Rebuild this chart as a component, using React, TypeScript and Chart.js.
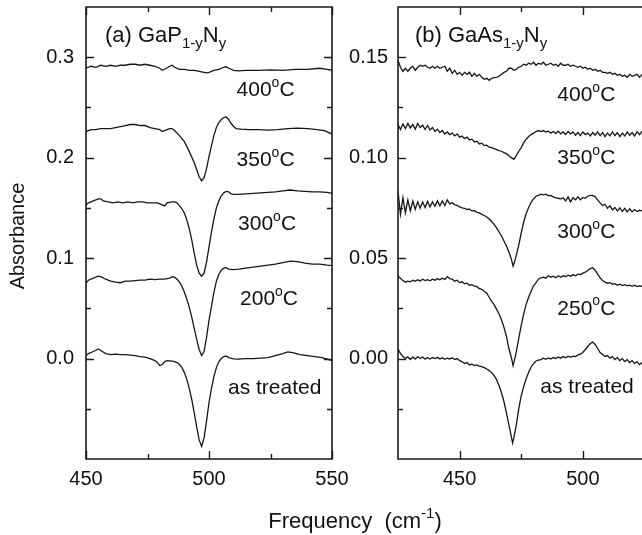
import React, { useEffect, useRef } from 'react';
import { Chart, registerables } from 'chart.js';

Chart.register(...registerables);

const FONT = '"Liberation Sans", Arial, Helvetica, sans-serif';
const INK = '#161616';

// ---------- Panel (a) GaP1-yNy ----------
const gapXTicks = [450, 500, 550];
const gapXMinor = [475, 525];
const gapYTicks = [0.0, 0.1, 0.2, 0.3];
const gapYMinor = [-0.05, 0.05, 0.15, 0.25];

const gap400: number[][] = [
  [450, 0.289], [452, 0.291], [454, 0.290], [456, 0.292], [458, 0.291], [460, 0.292], [462, 0.291],
  [464, 0.292], [466, 0.292], [468, 0.293], [470, 0.293], [472, 0.292], [474, 0.293], [476, 0.292],
  [478, 0.291], [480, 0.289], [481, 0.287], [482, 0.288], [484, 0.291], [485, 0.292], [486, 0.290],
  [488, 0.288], [490, 0.288], [492, 0.287], [494, 0.287], [496, 0.286], [498, 0.285], [499, 0.2845],
  [500, 0.285], [502, 0.287], [504, 0.288], [506, 0.290], [507, 0.2905], [508, 0.289], [510, 0.287],
  [512, 0.2865], [515, 0.287], [520, 0.287], [525, 0.2875], [530, 0.287], [535, 0.288], [540, 0.288],
  [545, 0.289], [548, 0.288], [550, 0.287],
];
const gap350: number[][] = [
  [450, 0.226], [452, 0.228], [454, 0.228], [456, 0.229], [458, 0.229], [460, 0.229], [462, 0.230],
  [464, 0.231], [466, 0.232], [468, 0.233], [470, 0.233], [472, 0.232], [474, 0.232], [476, 0.230],
  [478, 0.229], [480, 0.228], [481, 0.226], [482, 0.227], [484, 0.229], [485, 0.229], [486, 0.227],
  [488, 0.222], [490, 0.216], [492, 0.206], [494, 0.195], [495, 0.188], [496, 0.181], [497, 0.177],
  [498, 0.180], [499, 0.189], [500, 0.201], [501, 0.212], [502, 0.222], [503, 0.230], [504, 0.235],
  [505, 0.238], [506, 0.240], [507, 0.2405], [508, 0.238], [509, 0.234], [510, 0.231], [511, 0.229],
  [513, 0.2285], [516, 0.228], [520, 0.228], [524, 0.2275], [528, 0.228], [532, 0.229], [536, 0.2295],
  [540, 0.229], [544, 0.228], [547, 0.227], [550, 0.2235],
];
const gap300: number[][] = [
  [450, 0.153], [451, 0.155], [453, 0.157], [455, 0.159], [456, 0.159], [457, 0.157], [459, 0.156],
  [461, 0.155], [463, 0.156], [465, 0.155], [467, 0.156], [469, 0.155], [471, 0.156], [473, 0.156],
  [475, 0.155], [477, 0.155], [479, 0.155], [481, 0.153], [482, 0.152], [483, 0.155], [485, 0.156],
  [486, 0.156], [487, 0.155], [488, 0.152], [489, 0.149], [490, 0.145], [491, 0.138], [492, 0.129],
  [493, 0.118], [494, 0.105], [495, 0.093], [496, 0.085], [497, 0.082], [498, 0.085], [499, 0.096],
  [500, 0.111], [501, 0.126], [502, 0.139], [503, 0.150], [504, 0.157], [505, 0.162], [506, 0.165],
  [507, 0.1665], [508, 0.166], [509, 0.164], [510, 0.1635], [512, 0.1635], [515, 0.164], [518, 0.1645],
  [521, 0.165], [524, 0.1655], [527, 0.166], [530, 0.167], [533, 0.1678], [536, 0.167], [539, 0.1665],
  [542, 0.166], [545, 0.166], [548, 0.1655], [550, 0.1645],
];
const gap200: number[][] = [
  [450, 0.075], [451, 0.078], [453, 0.080], [455, 0.082], [456, 0.0815], [458, 0.079], [460, 0.077],
  [462, 0.076], [464, 0.0755], [466, 0.077], [468, 0.077], [470, 0.0775], [472, 0.078], [474, 0.078],
  [476, 0.079], [478, 0.0785], [480, 0.079], [482, 0.079], [484, 0.080], [485, 0.0815], [486, 0.081],
  [487, 0.079], [488, 0.076], [489, 0.072], [490, 0.066], [491, 0.059], [492, 0.051], [493, 0.041],
  [494, 0.030], [495, 0.019], [496, 0.009], [497, 0.003], [498, 0.007], [499, 0.021], [500, 0.038],
  [501, 0.052], [502, 0.066], [503, 0.077], [504, 0.084], [505, 0.088], [506, 0.090], [507, 0.0905],
  [508, 0.089], [510, 0.0885], [512, 0.089], [515, 0.090], [518, 0.091], [521, 0.092], [524, 0.093],
  [527, 0.094], [530, 0.0955], [533, 0.097], [536, 0.0965], [539, 0.095], [542, 0.094], [545, 0.094],
  [548, 0.093], [550, 0.0925],
];
const gapAsTreated: number[][] = [
  [450, 0.003], [451, 0.005], [453, 0.007], [455, 0.0095], [456, 0.008], [458, 0.005], [460, 0.004],
  [462, 0.0045], [464, 0.004], [466, 0.004], [468, 0.0035], [470, 0.003], [472, 0.002], [474, 0.0015],
  [476, 0.000], [478, -0.002], [479, -0.004], [480, -0.007], [481, -0.006], [482, -0.003], [483, -0.002],
  [485, -0.0025], [486, -0.003], [487, -0.004], [488, -0.006], [489, -0.009], [490, -0.014], [491, -0.021],
  [492, -0.030], [493, -0.041], [494, -0.054], [495, -0.068], [496, -0.081], [497, -0.0875], [498, -0.079],
  [499, -0.062], [500, -0.044], [501, -0.030], [502, -0.018], [503, -0.009], [504, -0.003], [505, 0.000],
  [506, 0.002], [507, 0.0025], [508, 0.001], [510, -0.0003], [512, -0.0005], [515, 0.000], [518, 0.000],
  [521, 0.0005], [524, 0.001], [527, 0.003], [530, 0.005], [532, 0.0067], [534, 0.006], [537, 0.004],
  [540, 0.003], [543, 0.002], [546, 0.001], [548, -0.0005], [550, -0.002],
];

// ---------- Panel (b) GaAs1-yNy ----------
const gaasXTicks = [450, 500];
const gaasXMinor = [475];
const gaasYTicks = [0.0, 0.05, 0.1, 0.15];
const gaasYMinor = [-0.025, 0.025, 0.075, 0.125];

const gaas400: number[][] = [
  [425, 0.1485], [426, 0.145], [427, 0.143], [428, 0.1445], [429, 0.143], [430, 0.1445], [431, 0.1455],
  [432, 0.1435], [433, 0.145], [434, 0.146], [435, 0.1455], [436, 0.146], [437, 0.145], [438, 0.1445],
  [439, 0.1455], [440, 0.1445], [441, 0.1455], [442, 0.1445], [443, 0.145], [444, 0.1455], [445, 0.143],
  [446, 0.1445], [447, 0.142], [448, 0.1435], [449, 0.1415], [450, 0.1425], [451, 0.141], [452, 0.1425],
  [453, 0.1415], [454, 0.1425], [455, 0.1405], [456, 0.142], [457, 0.1405], [458, 0.1415], [459, 0.140],
  [460, 0.139], [461, 0.1395], [462, 0.1385], [463, 0.1395], [464, 0.1398], [465, 0.140], [466, 0.1405],
  [467, 0.1415], [468, 0.1425], [469, 0.143], [470, 0.1445], [471, 0.1445], [472, 0.1435], [473, 0.144],
  [474, 0.145], [475, 0.1455], [476, 0.1465], [477, 0.146], [478, 0.147], [479, 0.1465], [480, 0.1475],
  [481, 0.146], [482, 0.147], [483, 0.1465], [484, 0.1475], [485, 0.146], [486, 0.1465], [487, 0.147],
  [488, 0.146], [489, 0.1465], [490, 0.1455], [491, 0.147], [492, 0.146], [493, 0.146], [494, 0.1465],
  [495, 0.1455], [496, 0.146], [497, 0.1455], [498, 0.145], [499, 0.1455], [500, 0.1445], [501, 0.145],
  [502, 0.144], [503, 0.1445], [504, 0.1435], [505, 0.144], [506, 0.143], [507, 0.1435], [508, 0.1425],
  [509, 0.1425], [510, 0.142], [511, 0.1425], [512, 0.1415], [513, 0.142], [514, 0.141], [515, 0.1415],
  [516, 0.1405], [517, 0.141], [518, 0.140], [519, 0.1415], [520, 0.1405], [521, 0.141], [522, 0.1415],
  [523, 0.140], [524, 0.1415],
];
const gaas350: number[][] = [
  [425, 0.1165], [426, 0.1140], [427, 0.1168], [428, 0.1145], [429, 0.1170], [430, 0.1148], [431, 0.1165],
  [432, 0.1142], [433, 0.1170], [434, 0.1150], [435, 0.1162], [436, 0.1140], [437, 0.1160], [438, 0.1138],
  [439, 0.1150], [440, 0.1130], [441, 0.1142], [442, 0.1125], [443, 0.1135], [444, 0.1118], [445, 0.1128],
  [446, 0.1115], [447, 0.1122], [448, 0.1108], [449, 0.1118], [450, 0.1102], [451, 0.1108], [452, 0.1095],
  [453, 0.1102], [454, 0.1088], [455, 0.1092], [456, 0.1078], [457, 0.1082], [458, 0.1068], [459, 0.1072],
  [460, 0.1060], [461, 0.1062], [462, 0.1052], [463, 0.1050], [464, 0.1045], [465, 0.1040], [466, 0.1035],
  [467, 0.1032], [468, 0.1025], [469, 0.1020], [470, 0.1010], [471, 0.1000], [472, 0.0992], [473, 0.1010],
  [474, 0.1032], [475, 0.1050], [476, 0.1075], [477, 0.1092], [478, 0.1105], [479, 0.1115], [480, 0.1122],
  [481, 0.1130], [482, 0.1135], [483, 0.1130], [484, 0.1135], [485, 0.1128], [486, 0.1132], [487, 0.1122],
  [488, 0.1130], [489, 0.1120], [490, 0.1132], [491, 0.1118], [492, 0.1128], [493, 0.1115], [494, 0.1130],
  [495, 0.1118], [496, 0.1128], [497, 0.1112], [498, 0.1125], [499, 0.1110], [500, 0.1128], [501, 0.1115],
  [502, 0.1122], [503, 0.1108], [504, 0.1125], [505, 0.1112], [506, 0.1128], [507, 0.1110], [508, 0.1125],
  [509, 0.1105], [510, 0.1122], [511, 0.1108], [512, 0.1128], [513, 0.1110], [514, 0.1125], [515, 0.1105],
  [516, 0.1122], [517, 0.1108], [518, 0.1128], [519, 0.1112], [520, 0.1125], [521, 0.1108], [522, 0.1130],
  [523, 0.1115], [524, 0.1132],
];
const gaas300: number[][] = [
  [425, 0.0834], [426, 0.0718], [427, 0.0801], [428, 0.0726], [429, 0.0790], [430, 0.0735], [431, 0.0784],
  [432, 0.0743], [433, 0.0780], [434, 0.0748], [435, 0.0780], [436, 0.0752], [437, 0.0782], [438, 0.0755],
  [439, 0.0780], [440, 0.0758], [441, 0.0785], [442, 0.0760], [443, 0.0785], [444, 0.0762], [445, 0.0790],
  [446, 0.0770], [447, 0.0775], [448, 0.0765], [449, 0.0762], [450, 0.0755], [451, 0.0750], [452, 0.0748],
  [453, 0.0742], [454, 0.0744], [455, 0.0735], [456, 0.0736], [457, 0.0728], [458, 0.0725], [459, 0.0718],
  [460, 0.0712], [461, 0.0705], [462, 0.0695], [463, 0.0682], [464, 0.0668], [465, 0.0650], [466, 0.0630],
  [467, 0.0610], [468, 0.0585], [469, 0.0560], [470, 0.0530], [471, 0.0495], [471.7, 0.0460], [472.5, 0.0490],
  [473, 0.0515], [474, 0.0565], [475, 0.0625], [476, 0.0680], [477, 0.0722], [478, 0.0752], [479, 0.0778],
  [480, 0.0795], [481, 0.0808], [482, 0.0812], [483, 0.0818], [484, 0.0815], [485, 0.0818], [486, 0.0810],
  [487, 0.0812], [488, 0.0805], [489, 0.0800], [490, 0.0798], [491, 0.0795], [492, 0.0800], [493, 0.0785],
  [494, 0.0805], [495, 0.0780], [496, 0.0800], [497, 0.0790], [498, 0.0805], [499, 0.0790], [500, 0.0802],
  [501, 0.0798], [502, 0.0808], [503, 0.0812], [504, 0.0812], [505, 0.0805], [506, 0.0790], [507, 0.0775],
  [508, 0.0762], [509, 0.0768], [510, 0.0748], [511, 0.0760], [512, 0.0740], [513, 0.0752], [514, 0.0735],
  [515, 0.0750], [516, 0.0732], [517, 0.0748], [518, 0.0730], [519, 0.0745], [520, 0.0730], [521, 0.0742],
  [522, 0.0732], [523, 0.0738], [524, 0.0735],
];
const gaas250: number[][] = [
  [425, 0.0410], [426, 0.0400], [427, 0.0388], [428, 0.0380], [429, 0.0385], [430, 0.0382], [431, 0.0390],
  [432, 0.0385], [433, 0.0392], [434, 0.0386], [435, 0.0395], [436, 0.0388], [437, 0.0393], [438, 0.0387],
  [439, 0.0395], [440, 0.0390], [441, 0.0398], [442, 0.0392], [443, 0.0400], [444, 0.0394], [445, 0.0408],
  [446, 0.0398], [447, 0.0395], [448, 0.0385], [449, 0.0390], [450, 0.0378], [451, 0.0382], [452, 0.0372],
  [453, 0.0375], [454, 0.0365], [455, 0.0368], [456, 0.0360], [457, 0.0358], [458, 0.0348], [459, 0.0345],
  [460, 0.0335], [461, 0.0325], [462, 0.0305], [463, 0.0285], [464, 0.0268], [465, 0.0245], [466, 0.0222],
  [467, 0.0192], [468, 0.0155], [469, 0.0110], [470, 0.0050], [471, 0.0005], [471.7, -0.0035], [472.5, 0.0005],
  [473, 0.0035], [474, 0.0100], [475, 0.0165], [476, 0.0222], [477, 0.0270], [478, 0.0305], [479, 0.0335],
  [480, 0.0362], [481, 0.0378], [482, 0.0395], [483, 0.0402], [484, 0.0405], [485, 0.0400], [486, 0.0412],
  [487, 0.0405], [488, 0.0410], [489, 0.0402], [490, 0.0412], [491, 0.0405], [492, 0.0412], [493, 0.0408],
  [494, 0.0415], [495, 0.0410], [496, 0.0418], [497, 0.0412], [498, 0.0420], [499, 0.0418], [500, 0.0425],
  [501, 0.0430], [502, 0.0438], [503, 0.0448], [504, 0.0452], [505, 0.0440], [506, 0.0420], [507, 0.0402],
  [508, 0.0388], [509, 0.0380], [510, 0.0375], [511, 0.0378], [512, 0.0370], [513, 0.0373], [514, 0.0365],
  [515, 0.0370], [516, 0.0363], [517, 0.0368], [518, 0.0362], [519, 0.0365], [520, 0.0360], [521, 0.0365],
  [522, 0.0358], [523, 0.0362], [524, 0.0360],
];
const gaasAsTreated: number[][] = [
  [425, 0.0048], [426, 0.0025], [427, 0.0010], [428, 0.0000], [429, 0.0008], [430, -0.0005], [431, 0.0008],
  [432, -0.0003], [433, 0.0010], [434, 0.0000], [435, 0.0008], [436, -0.0003], [437, 0.0005], [438, -0.0002],
  [439, 0.0005], [440, 0.0000], [441, 0.0006], [442, -0.0002], [443, 0.0004], [444, -0.0004], [445, 0.0002],
  [446, -0.0002], [447, 0.0004], [448, -0.0005], [449, 0.0000], [450, -0.0010], [451, -0.0015], [452, -0.0025],
  [453, -0.0020], [454, -0.0032], [455, -0.0028], [456, -0.0035], [457, -0.0032], [458, -0.0038], [459, -0.0040],
  [460, -0.0045], [461, -0.0052], [462, -0.0060], [463, -0.0070], [464, -0.0085], [465, -0.0105], [466, -0.0135],
  [467, -0.0170], [468, -0.0215], [469, -0.0270], [470, -0.0330], [471, -0.0390], [471.5, -0.0420], [472, -0.0395],
  [473, -0.0330], [474, -0.0250], [475, -0.0185], [476, -0.0140], [477, -0.0100], [478, -0.0068], [479, -0.0042],
  [480, -0.0025], [481, -0.0012], [482, -0.0008], [483, -0.0005], [484, 0.0002], [485, -0.0004], [486, 0.0003],
  [487, -0.0002], [488, 0.0005], [489, 0.0000], [490, 0.0008], [491, 0.0002], [492, 0.0010], [493, 0.0004],
  [494, 0.0012], [495, 0.0006], [496, 0.0012], [497, 0.0010], [498, 0.0018], [499, 0.0022], [500, 0.0030],
  [501, 0.0045], [502, 0.0060], [503, 0.0075], [504, 0.0082], [505, 0.0070], [506, 0.0050], [507, 0.0030],
  [508, 0.0020], [509, 0.0010], [510, 0.0015], [511, 0.0002], [512, 0.0010], [513, -0.0005], [514, 0.0005],
  [515, -0.0010], [516, 0.0000], [517, -0.0015], [518, -0.0005], [519, -0.0020], [520, -0.0010], [521, -0.0025],
  [522, -0.0015], [523, -0.0030], [524, -0.0020],
];

const gapSeries = [gap400, gap350, gap300, gap200, gapAsTreated];
const gaasSeries = [gaas400, gaas350, gaas300, gaas250, gaasAsTreated];

type Part = { t: string; k?: 'sup' | 'sub' };
const deg = (n: string): Part[] => [{ t: n }, { t: 'o', k: 'sup' }, { t: 'C' }];

// curve labels: centre x (cm-1), baseline y (absorbance)
const gapLabels = [
  { parts: deg('400'), x: 523, y: 0.261 },
  { parts: deg('350'), x: 523, y: 0.1917 },
  { parts: deg('300'), x: 523.6, y: 0.128 },
  { parts: deg('200'), x: 524.4, y: 0.0531 },
  { parts: [{ t: 'as treated' }] as Part[], x: 526.7, y: -0.0349 },
];
const gaasLabels = [
  { parts: deg('400'), x: 501.4, y: 0.128 },
  { parts: deg('350'), x: 501.4, y: 0.0967 },
  { parts: deg('300'), x: 501.4, y: 0.0598 },
  { parts: deg('250'), x: 501.4, y: 0.0219 },
  { parts: [{ t: 'as treated' }] as Part[], x: 501.7, y: -0.0171 },
];
const gapTitle: Part[] = [{ t: '(a) GaP' }, { t: '1-y', k: 'sub' }, { t: 'N' }, { t: 'y', k: 'sub' }];
const gaasTitle: Part[] = [{ t: '(b) GaAs' }, { t: '1-y', k: 'sub' }, { t: 'N' }, { t: 'y', k: 'sub' }];
const xTitle: Part[] = [{ t: 'Frequency  (cm' }, { t: '-1', k: 'sup' }, { t: ')' }];
const yTitle = 'Absorbance';

const LABEL_SIZE = 21;
const TITLE_SIZE = 22;
const TICK_SIZE = 20;

function partSize(p: Part, size: number) {
  return p.k ? Math.round(size * 0.68) : size;
}
function richWidth(ctx: CanvasRenderingContext2D, parts: Part[], size: number) {
  let w = 0;
  for (const p of parts) {
    ctx.font = `${partSize(p, size)}px ${FONT}`;
    w += ctx.measureText(p.t).width;
  }
  return w;
}
function drawRich(ctx: CanvasRenderingContext2D, x: number, y: number, parts: Part[], size: number) {
  let cx = x;
  ctx.textBaseline = 'alphabetic';
  ctx.textAlign = 'left';
  for (const p of parts) {
    const dy = p.k === 'sup' ? -size * 0.45 : p.k === 'sub' ? size * 0.3 : 0;
    ctx.font = `${partSize(p, size)}px ${FONT}`;
    ctx.fillText(p.t, cx, y + dy);
    cx += ctx.measureText(p.t).width;
  }
}

function framePlugin(cfg: any) {
  return {
    id: 'frame' + cfg.key,
    afterDatasetsDraw(chart: any) {
      const { ctx, chartArea: ca, scales } = chart;
      const xs = scales.x;
      const ys = scales.y;
      ctx.save();
      ctx.strokeStyle = '#1a1a1a';
      ctx.lineWidth = 1.6;
      ctx.lineCap = 'square';
      ctx.beginPath();
      ctx.moveTo(ca.left, ca.top);
      ctx.lineTo(ca.left, ca.bottom);
      ctx.lineTo(ca.right, ca.bottom);
      if (cfg.right) {
        ctx.lineTo(ca.right, ca.top);
      } else {
        ctx.moveTo(ca.right, ca.top);
      }
      ctx.lineTo(ca.left, ca.top);
      ctx.stroke();

      ctx.lineWidth = 1.4;
      ctx.lineCap = 'butt';
      const tick = (vals: number[], len: number) => {
        for (const v of vals) {
          const px = Math.round(xs.getPixelForValue(v)) + 0.5;
          ctx.beginPath();
          ctx.moveTo(px, ca.bottom);
          ctx.lineTo(px, ca.bottom - len);
          ctx.moveTo(px, ca.top);
          ctx.lineTo(px, ca.top + len);
          ctx.stroke();
        }
      };
      const ytick = (vals: number[], len: number) => {
        for (const v of vals) {
          const py = Math.round(ys.getPixelForValue(v)) + 0.5;
          ctx.beginPath();
          ctx.moveTo(ca.left, py);
          ctx.lineTo(ca.left + len, py);
          if (cfg.right) {
            ctx.moveTo(ca.right, py);
            ctx.lineTo(ca.right - len, py);
          }
          ctx.stroke();
        }
      };
      tick(cfg.xMajor, 8);
      tick(cfg.xMinor, 5);
      ytick(cfg.yMajor, 8);
      ytick(cfg.yMinor, 5);

      ctx.fillStyle = '#111';
      for (const l of cfg.labels) {
        const w = richWidth(ctx, l.parts, LABEL_SIZE);
        drawRich(ctx, xs.getPixelForValue(l.x) - w / 2, ys.getPixelForValue(l.y), l.parts, LABEL_SIZE);
      }
      drawRich(ctx, ca.left + cfg.titleDx, ca.top + 34.5, cfg.title, TITLE_SIZE);

      if (cfg.axisTitles) {
        const w = richWidth(ctx, xTitle, 22);
        drawRich(ctx, 355 - w / 2, 528, xTitle, 22);
        ctx.save();
        ctx.translate(18, 236);
        ctx.rotate(-Math.PI / 2);
        ctx.font = `20px ${FONT}`;
        ctx.textAlign = 'center';
        ctx.textBaseline = 'middle';
        ctx.fillText(yTitle, 0, 0);
        ctx.restore();
      }
      ctx.restore();
    },
  };
}

function makeConfig(opts: any) {
  return {
    type: 'line',
    data: {
      datasets: opts.series.map((s: number[][]) => ({
        data: s.map(([x, y]) => ({ x, y })),
        borderColor: INK,
        borderWidth: 1.3,
        pointRadius: 0,
        tension: 0,
        fill: false,
      })),
    },
    options: {
      animation: false,
      responsive: false,
      events: [],
      layout: { padding: opts.padding },
      plugins: { legend: { display: false }, tooltip: { enabled: false } },
      scales: {
        x: {
          type: 'linear',
          min: opts.xMin,
          max: opts.xMax,
          grid: { display: false, drawTicks: false },
          border: { display: false },
          afterBuildTicks: (s: any) => {
            s.ticks = opts.xMajor.map((v: number) => ({ value: v }));
          },
          ticks: {
            font: { family: FONT, size: TICK_SIZE },
            color: '#111',
            padding: 8,
            maxRotation: 0,
            autoSkip: false,
            callback: (v: number) => String(v),
          },
          afterFit: (s: any) => {
            s.height = 76;
            s.paddingLeft = 0;
            s.paddingRight = 0;
          },
        },
        y: {
          type: 'linear',
          min: opts.yMin,
          max: opts.yMax,
          grid: { display: false, drawTicks: false },
          border: { display: false },
          afterBuildTicks: (s: any) => {
            s.ticks = opts.yMajor.map((v: number) => ({ value: v }));
          },
          ticks: {
            font: { family: FONT, size: TICK_SIZE },
            color: '#111',
            padding: opts.yPad,
            autoSkip: false,
            callback: (v: number) => v.toFixed(opts.yDec),
          },
          afterFit: (s: any) => {
            s.width = opts.yWidth;
            s.paddingTop = 0;
            s.paddingBottom = 0;
          },
        },
      },
    },
    plugins: [framePlugin(opts)],
  };
}

export default function App() {
  const aRef = useRef<HTMLCanvasElement>(null);
  const bRef = useRef<HTMLCanvasElement>(null);

  useEffect(() => {
    const a = new Chart(
      aRef.current as HTMLCanvasElement,
      makeConfig({
        key: 'a',
        series: gapSeries,
        xMin: 450,
        xMax: 550,
        yMin: -0.1,
        yMax: 0.35,
        xMajor: gapXTicks,
        xMinor: gapXMinor,
        yMajor: gapYTicks,
        yMinor: gapYMinor,
        yDec: 1,
        yPad: 12,
        yWidth: 86,
        padding: { left: 0, top: 7, right: 310, bottom: 0 },
        right: true,
        labels: gapLabels,
        title: gapTitle,
        titleDx: 19,
        axisTitles: true,
      }) as any
    );
    const b = new Chart(
      bRef.current as HTMLCanvasElement,
      makeConfig({
        key: 'b',
        series: gaasSeries,
        xMin: 425,
        xMax: 524,
        yMin: -0.05,
        yMax: 0.175,
        xMajor: gaasXTicks,
        xMinor: gaasXMinor,
        yMajor: gaasYTicks,
        yMinor: gaasYMinor,
        yDec: 2,
        yPad: 10,
        yWidth: 398,
        padding: { left: 0, top: 7, right: 0, bottom: 0 },
        right: false,
        labels: gaasLabels,
        title: gaasTitle,
        titleDx: 17,
        axisTitles: false,
      }) as any
    );
    return () => {
      a.destroy();
      b.destroy();
    };
  }, []);

  const cs: React.CSSProperties = { position: 'absolute', left: 0, top: 0, width: 642, height: 535 };
  return (
    <div style={{ position: 'fixed', left: 0, top: 0, width: 642, height: 535, background: '#fff', overflow: 'hidden' }}>
      <canvas ref={aRef} width={642} height={535} style={cs} />
      <canvas ref={bRef} width={642} height={535} style={cs} />
    </div>
  );
}
